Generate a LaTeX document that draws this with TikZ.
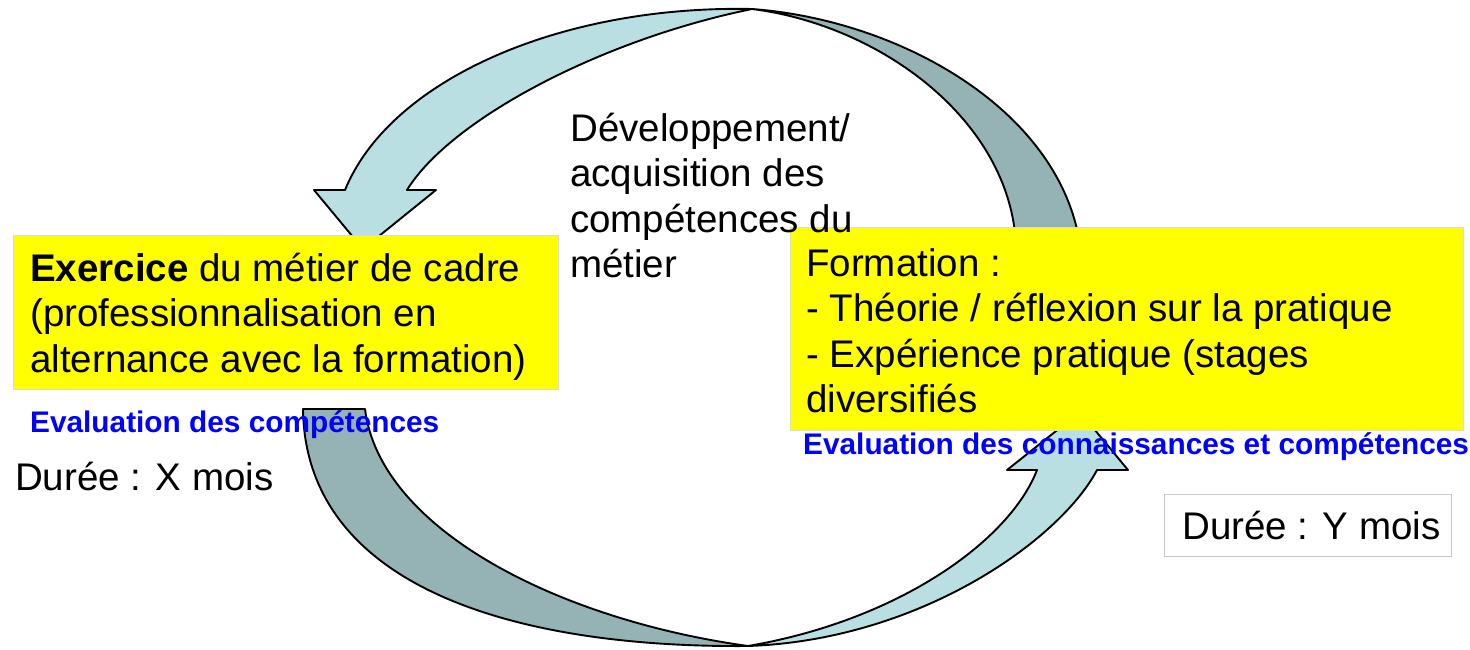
\documentclass[tikz,border=0pt]{standalone}
\usepackage{fontspec}
\setmainfont{Liberation Sans}
\definecolor{yellowbox}{RGB}{255,255,0}
\definecolor{evalblue}{RGB}{0,0,255}
\definecolor{arrowlight}{RGB}{185,223,227}
\definecolor{arrowdark}{RGB}{149,179,181}
\tikzset{
  ybox/.style={fill=yellowbox, draw=black!15, line width=1pt, inner sep=0pt, anchor=north west},
  txt/.style={anchor=base west, inner sep=0pt, align=left, font=\fontsize{38.5}{45.5}\selectfont},
  evaltxt/.style={anchor=base west, inner sep=0pt, text=evalblue, font=\fontsize{29.8}{34}\selectfont\bfseries},
  face/.style={draw=black, line width=1.9pt, line join=round},
}
\begin{document}
\begin{tikzpicture}[x=1pt, y=-1pt]
\useasboundingbox (0,0) rectangle (1470,649);

\path[face, fill=arrowdark] (752,9) .. controls (900,20) and (1060,110) .. (1080,245) -- (1016,245) .. controls (1010,120) and (880,25) .. (752,9) -- cycle;
\path[face, fill=arrowlight] (752,9) .. controls (560,5) and (390,80) .. (345,190) -- (314,190) -- (363,249) -- (436,190) -- (407,190) .. controls (450,120) and (600,40) .. (752,9) -- cycle;

\path[face, fill=arrowdark] (303,409) -- (365,409) .. controls (380,530) and (560,620) .. (748,646) .. controls (500,648) and (305,580) .. (303,409) -- cycle;
\path[face, fill=arrowlight] (748,646) .. controls (920,640) and (1060,540) .. (1097,470) -- (1128,470) -- (1080,412) -- (1007,470) -- (1037,470) .. controls (1010,540) and (900,620) .. (748,646) -- cycle;

\node[ybox, minimum width=545pt, minimum height=154pt] (exerbox) at (13,235) {};
\node[ybox, minimum width=673pt, minimum height=203pt] (formbox) at (790,227) {};
\node[draw=black!22, line width=1pt, inner sep=0pt, minimum width=287pt, minimum height=62pt, anchor=north west] (dureey) at (1164,494) {};

\node[txt] (exer) at (30,372) {\textbf{Exercice} du métier de cadre\\(professionnalisation en\\alternance avec la formation)};
\node[txt] (dev) at (570,277.5) {Développement/\\acquisition des\\compétences du\\métier};
\node[txt] (form) at (806,412.5) {Formation :\\- Théorie / réflexion sur la pratique\\- Expérience pratique (stages\\diversifiés};

\node[evaltxt] (evalx) at (30,432) {Evaluation des compétences};
\node[evaltxt] (evaly) at (803,454) {Evaluation des connaissances et compétences};

\node[txt] (dureex) at (15,490) {Durée : X mois};
\node[txt] (dureeytxt) at (1182,539) {Durée : Y mois};
\end{tikzpicture}
\end{document}
